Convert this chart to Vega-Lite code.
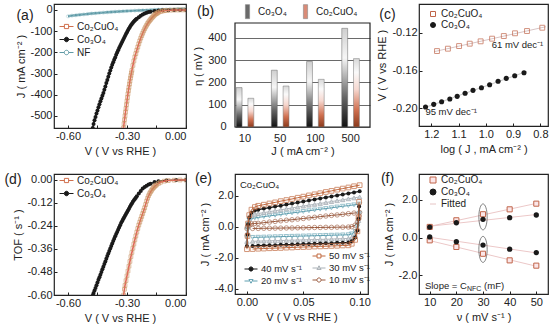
{
"$schema": "https://vega.github.io/schema/vega-lite/v6.json",
"background": "white",
"padding": {"left": 3, "top": 3, "right": 0, "bottom": 0},
"config": {
  "font": "Liberation Sans",
  "view": {"stroke": "#222", "strokeWidth": 1.2},
  "axis": {"grid": false, "domain": false, "tickSize": -3, "tickColor": "#222", "tickWidth": 1, "labelPadding": 5, "labelFontSize": 11, "labelColor": "#222", "titleFontSize": 11, "titleFontWeight": "normal", "titleColor": "#222", "titlePadding": 4},
  "legend": {"labelFontSize": 10, "labelColor": "#222", "padding": 0, "symbolOpacity": 1, "rowPadding": 0, "labelOffset": 3},
  "title": {"fontSize": 14, "fontWeight": "normal", "color": "#222", "anchor": "start", "frame": "group", "offset": 0},
  "text": {"font": "Liberation Sans", "color": "#222"},
  "locale": {"number": {"decimal": ".", "thousands": ",", "grouping": [3], "currency": ["$", ""], "minus": "-"}}
},
"datasets": {
"a": [
{"s":"NF","v":-0.6,"j":-30},{"s":"NF","v":-0.58,"j":-27},{"s":"NF","v":-0.56,"j":-25},{"s":"NF","v":-0.54,"j":-23},{"s":"NF","v":-0.52,"j":-21},{"s":"NF","v":-0.5,"j":-19},{"s":"NF","v":-0.48,"j":-17},{"s":"NF","v":-0.46,"j":-15.5},{"s":"NF","v":-0.44,"j":-14},{"s":"NF","v":-0.42,"j":-12.5},{"s":"NF","v":-0.4,"j":-11},{"s":"NF","v":-0.38,"j":-9.7},{"s":"NF","v":-0.36,"j":-8.5},{"s":"NF","v":-0.34,"j":-7.3},{"s":"NF","v":-0.32,"j":-6.2},{"s":"NF","v":-0.3,"j":-5.2},{"s":"NF","v":-0.28,"j":-4.2},{"s":"NF","v":-0.26,"j":-3.3},{"s":"NF","v":-0.24,"j":-2.4},{"s":"NF","v":-0.22,"j":-1.6},{"s":"NF","v":-0.2,"j":-0.8},{"s":"NF","v":-0.18,"j":0},{"s":"NF","v":-0.16,"j":0.7},{"s":"NF","v":-0.14,"j":1.4},{"s":"NF","v":-0.12,"j":2},{"s":"NF","v":-0.1,"j":2.6},{"s":"NF","v":-0.08,"j":3.2},{"s":"NF","v":-0.06,"j":3.8},{"s":"NF","v":-0.04,"j":4.3},{"s":"NF","v":-0.02,"j":4.8},{"s":"NF","v":0,"j":5.3},
{"s":"Co₃O₄","v":0,"j":0},{"s":"Co₃O₄","v":-0.03,"j":-0.2},{"s":"Co₃O₄","v":-0.06,"j":-0.5},{"s":"Co₃O₄","v":-0.09,"j":-1},{"s":"Co₃O₄","v":-0.12,"j":-2},{"s":"Co₃O₄","v":-0.14,"j":-3},{"s":"Co₃O₄","v":-0.16,"j":-5},{"s":"Co₃O₄","v":-0.18,"j":-8},{"s":"Co₃O₄","v":-0.19,"j":-10},{"s":"Co₃O₄","v":-0.2,"j":-13},{"s":"Co₃O₄","v":-0.21,"j":-17},{"s":"Co₃O₄","v":-0.22,"j":-22},{"s":"Co₃O₄","v":-0.23,"j":-27},{"s":"Co₃O₄","v":-0.24,"j":-34},{"s":"Co₃O₄","v":-0.25,"j":-41},{"s":"Co₃O₄","v":-0.255,"j":-45},{"s":"Co₃O₄","v":-0.26,"j":-50},{"s":"Co₃O₄","v":-0.265,"j":-55},{"s":"Co₃O₄","v":-0.27,"j":-60},{"s":"Co₃O₄","v":-0.275,"j":-66},{"s":"Co₃O₄","v":-0.28,"j":-72},{"s":"Co₃O₄","v":-0.285,"j":-80},{"s":"Co₃O₄","v":-0.29,"j":-88},{"s":"Co₃O₄","v":-0.295,"j":-96},{"s":"Co₃O₄","v":-0.3,"j":-105},{"s":"Co₃O₄","v":-0.305,"j":-114},{"s":"Co₃O₄","v":-0.31,"j":-123},{"s":"Co₃O₄","v":-0.315,"j":-132},{"s":"Co₃O₄","v":-0.32,"j":-142},{"s":"Co₃O₄","v":-0.325,"j":-151},{"s":"Co₃O₄","v":-0.33,"j":-161},{"s":"Co₃O₄","v":-0.335,"j":-170},{"s":"Co₃O₄","v":-0.34,"j":-180},{"s":"Co₃O₄","v":-0.345,"j":-190},{"s":"Co₃O₄","v":-0.35,"j":-201},{"s":"Co₃O₄","v":-0.355,"j":-212},{"s":"Co₃O₄","v":-0.36,"j":-224},{"s":"Co₃O₄","v":-0.365,"j":-235},{"s":"Co₃O₄","v":-0.37,"j":-247},{"s":"Co₃O₄","v":-0.375,"j":-259},{"s":"Co₃O₄","v":-0.38,"j":-272},{"s":"Co₃O₄","v":-0.385,"j":-286},{"s":"Co₃O₄","v":-0.39,"j":-300},{"s":"Co₃O₄","v":-0.395,"j":-315},{"s":"Co₃O₄","v":-0.4,"j":-330},{"s":"Co₃O₄","v":-0.405,"j":-345},{"s":"Co₃O₄","v":-0.41,"j":-361},{"s":"Co₃O₄","v":-0.415,"j":-376},{"s":"Co₃O₄","v":-0.42,"j":-392},{"s":"Co₃O₄","v":-0.425,"j":-405},{"s":"Co₃O₄","v":-0.43,"j":-418},{"s":"Co₃O₄","v":-0.435,"j":-431},{"s":"Co₃O₄","v":-0.44,"j":-445},{"s":"Co₃O₄","v":-0.445,"j":-459},{"s":"Co₃O₄","v":-0.45,"j":-474},{"s":"Co₃O₄","v":-0.455,"j":-489},{"s":"Co₃O₄","v":-0.46,"j":-505},{"s":"Co₃O₄","v":-0.465,"j":-521},{"s":"Co₃O₄","v":-0.47,"j":-538},{"s":"Co₃O₄","v":-0.474,"j":-557},
{"s":"Co₂CuO₄","v":0,"j":0},{"s":"Co₂CuO₄","v":-0.02,"j":0},{"s":"Co₂CuO₄","v":-0.04,"j":-0.3},{"s":"Co₂CuO₄","v":-0.06,"j":-0.6},{"s":"Co₂CuO₄","v":-0.08,"j":-1.2},{"s":"Co₂CuO₄","v":-0.1,"j":-2.5},{"s":"Co₂CuO₄","v":-0.11,"j":-3.5},{"s":"Co₂CuO₄","v":-0.12,"j":-5},{"s":"Co₂CuO₄","v":-0.13,"j":-7.5},{"s":"Co₂CuO₄","v":-0.14,"j":-11},{"s":"Co₂CuO₄","v":-0.145,"j":-14},{"s":"Co₂CuO₄","v":-0.15,"j":-17},{"s":"Co₂CuO₄","v":-0.155,"j":-20},{"s":"Co₂CuO₄","v":-0.16,"j":-24},{"s":"Co₂CuO₄","v":-0.165,"j":-29},{"s":"Co₂CuO₄","v":-0.17,"j":-34},{"s":"Co₂CuO₄","v":-0.175,"j":-39},{"s":"Co₂CuO₄","v":-0.18,"j":-45},{"s":"Co₂CuO₄","v":-0.185,"j":-51},{"s":"Co₂CuO₄","v":-0.19,"j":-57},{"s":"Co₂CuO₄","v":-0.195,"j":-64},{"s":"Co₂CuO₄","v":-0.2,"j":-72},{"s":"Co₂CuO₄","v":-0.205,"j":-80},{"s":"Co₂CuO₄","v":-0.21,"j":-89},{"s":"Co₂CuO₄","v":-0.215,"j":-99},{"s":"Co₂CuO₄","v":-0.22,"j":-110},{"s":"Co₂CuO₄","v":-0.225,"j":-121},{"s":"Co₂CuO₄","v":-0.23,"j":-133},{"s":"Co₂CuO₄","v":-0.235,"j":-146},{"s":"Co₂CuO₄","v":-0.24,"j":-160},{"s":"Co₂CuO₄","v":-0.245,"j":-175},{"s":"Co₂CuO₄","v":-0.25,"j":-190},{"s":"Co₂CuO₄","v":-0.255,"j":-206},{"s":"Co₂CuO₄","v":-0.26,"j":-222},{"s":"Co₂CuO₄","v":-0.265,"j":-241},{"s":"Co₂CuO₄","v":-0.27,"j":-262},{"s":"Co₂CuO₄","v":-0.275,"j":-285},{"s":"Co₂CuO₄","v":-0.2775,"j":-297},{"s":"Co₂CuO₄","v":-0.28,"j":-309},{"s":"Co₂CuO₄","v":-0.2825,"j":-322},{"s":"Co₂CuO₄","v":-0.285,"j":-336},{"s":"Co₂CuO₄","v":-0.2875,"j":-350},{"s":"Co₂CuO₄","v":-0.29,"j":-365},{"s":"Co₂CuO₄","v":-0.2925,"j":-380},{"s":"Co₂CuO₄","v":-0.295,"j":-396},{"s":"Co₂CuO₄","v":-0.2975,"j":-413},{"s":"Co₂CuO₄","v":-0.3,"j":-430},{"s":"Co₂CuO₄","v":-0.3025,"j":-447},{"s":"Co₂CuO₄","v":-0.305,"j":-465},{"s":"Co₂CuO₄","v":-0.3075,"j":-482},{"s":"Co₂CuO₄","v":-0.31,"j":-500},{"s":"Co₂CuO₄","v":-0.3125,"j":-518},{"s":"Co₂CuO₄","v":-0.315,"j":-537},{"s":"Co₂CuO₄","v":-0.318,"j":-557}
],
"b": [
{"J":"10","s":"Co₃O₄","eta":177},{"J":"10","s":"Co₂CuO₄","eta":129},{"J":"50","s":"Co₃O₄","eta":255},{"J":"50","s":"Co₂CuO₄","eta":184},{"J":"100","s":"Co₃O₄","eta":294},{"J":"100","s":"Co₂CuO₄","eta":214},{"J":"500","s":"Co₃O₄","eta":443},{"J":"500","s":"Co₂CuO₄","eta":307}
],
"c": [
{"s":"Co₂CuO₄","lj":1.179,"V":-0.1394},{"s":"Co₂CuO₄","lj":1.139,"V":-0.1369},{"s":"Co₂CuO₄","lj":1.098,"V":-0.1341},{"s":"Co₂CuO₄","lj":1.059,"V":-0.1316},{"s":"Co₂CuO₄","lj":1.019,"V":-0.1291},{"s":"Co₂CuO₄","lj":0.977,"V":-0.1263},{"s":"Co₂CuO₄","lj":0.934,"V":-0.1235},{"s":"Co₂CuO₄","lj":0.893,"V":-0.1206},{"s":"Co₂CuO₄","lj":0.849,"V":-0.1182},{"s":"Co₂CuO₄","lj":0.793,"V":-0.1147},
{"s":"Co₃O₄","lj":1.221,"V":-0.1986},{"s":"Co₃O₄","lj":1.191,"V":-0.1958},{"s":"Co₃O₄","lj":1.162,"V":-0.193},{"s":"Co₃O₄","lj":1.132,"V":-0.1902},{"s":"Co₃O₄","lj":1.105,"V":-0.1873},{"s":"Co₃O₄","lj":1.076,"V":-0.1841},{"s":"Co₃O₄","lj":1.047,"V":-0.181},{"s":"Co₃O₄","lj":1.016,"V":-0.1782},{"s":"Co₃O₄","lj":0.986,"V":-0.175},{"s":"Co₃O₄","lj":0.955,"V":-0.1714},{"s":"Co₃O₄","lj":0.925,"V":-0.1683},{"s":"Co₃O₄","lj":0.894,"V":-0.1655},{"s":"Co₃O₄","lj":0.86,"V":-0.1623}
],
"d": [
{"s":"Co₃O₄","v":0,"t":0},{"s":"Co₃O₄","v":-0.05,"t":-0.0005},{"s":"Co₃O₄","v":-0.1,"t":-0.002},{"s":"Co₃O₄","v":-0.14,"t":-0.006},{"s":"Co₃O₄","v":-0.16,"t":-0.011},{"s":"Co₃O₄","v":-0.18,"t":-0.019},{"s":"Co₃O₄","v":-0.19,"t":-0.024},{"s":"Co₃O₄","v":-0.2,"t":-0.03},{"s":"Co₃O₄","v":-0.21,"t":-0.037},{"s":"Co₃O₄","v":-0.22,"t":-0.045},{"s":"Co₃O₄","v":-0.23,"t":-0.057},{"s":"Co₃O₄","v":-0.24,"t":-0.071},{"s":"Co₃O₄","v":-0.25,"t":-0.085},{"s":"Co₃O₄","v":-0.255,"t":-0.092},{"s":"Co₃O₄","v":-0.26,"t":-0.099},{"s":"Co₃O₄","v":-0.265,"t":-0.106},{"s":"Co₃O₄","v":-0.27,"t":-0.114},{"s":"Co₃O₄","v":-0.275,"t":-0.122},{"s":"Co₃O₄","v":-0.28,"t":-0.131},{"s":"Co₃O₄","v":-0.285,"t":-0.14},{"s":"Co₃O₄","v":-0.29,"t":-0.15},{"s":"Co₃O₄","v":-0.295,"t":-0.159},{"s":"Co₃O₄","v":-0.3,"t":-0.168},{"s":"Co₃O₄","v":-0.305,"t":-0.178},{"s":"Co₃O₄","v":-0.31,"t":-0.187},{"s":"Co₃O₄","v":-0.315,"t":-0.196},{"s":"Co₃O₄","v":-0.32,"t":-0.205},{"s":"Co₃O₄","v":-0.325,"t":-0.215},{"s":"Co₃O₄","v":-0.33,"t":-0.225},{"s":"Co₃O₄","v":-0.335,"t":-0.236},{"s":"Co₃O₄","v":-0.34,"t":-0.248},{"s":"Co₃O₄","v":-0.345,"t":-0.259},{"s":"Co₃O₄","v":-0.35,"t":-0.271},{"s":"Co₃O₄","v":-0.355,"t":-0.282},{"s":"Co₃O₄","v":-0.36,"t":-0.294},{"s":"Co₃O₄","v":-0.365,"t":-0.306},{"s":"Co₃O₄","v":-0.37,"t":-0.318},{"s":"Co₃O₄","v":-0.375,"t":-0.331},{"s":"Co₃O₄","v":-0.38,"t":-0.344},{"s":"Co₃O₄","v":-0.385,"t":-0.357},{"s":"Co₃O₄","v":-0.39,"t":-0.37},{"s":"Co₃O₄","v":-0.395,"t":-0.383},{"s":"Co₃O₄","v":-0.4,"t":-0.397},{"s":"Co₃O₄","v":-0.405,"t":-0.411},{"s":"Co₃O₄","v":-0.41,"t":-0.425},{"s":"Co₃O₄","v":-0.415,"t":-0.438},{"s":"Co₃O₄","v":-0.42,"t":-0.452},{"s":"Co₃O₄","v":-0.425,"t":-0.466},{"s":"Co₃O₄","v":-0.43,"t":-0.48},{"s":"Co₃O₄","v":-0.435,"t":-0.494},{"s":"Co₃O₄","v":-0.44,"t":-0.508},{"s":"Co₃O₄","v":-0.445,"t":-0.521},{"s":"Co₃O₄","v":-0.45,"t":-0.535},{"s":"Co₃O₄","v":-0.455,"t":-0.549},{"s":"Co₃O₄","v":-0.46,"t":-0.563},{"s":"Co₃O₄","v":-0.465,"t":-0.577},{"s":"Co₃O₄","v":-0.47,"t":-0.59},{"s":"Co₃O₄","v":-0.473,"t":-0.6},
{"s":"Co₂CuO₄","v":0,"t":0},{"s":"Co₂CuO₄","v":-0.03,"t":0},{"s":"Co₂CuO₄","v":-0.06,"t":-0.001},{"s":"Co₂CuO₄","v":-0.09,"t":-0.003},{"s":"Co₂CuO₄","v":-0.11,"t":-0.006},{"s":"Co₂CuO₄","v":-0.13,"t":-0.012},{"s":"Co₂CuO₄","v":-0.14,"t":-0.018},{"s":"Co₂CuO₄","v":-0.15,"t":-0.025},{"s":"Co₂CuO₄","v":-0.155,"t":-0.029},{"s":"Co₂CuO₄","v":-0.16,"t":-0.034},{"s":"Co₂CuO₄","v":-0.165,"t":-0.04},{"s":"Co₂CuO₄","v":-0.17,"t":-0.046},{"s":"Co₂CuO₄","v":-0.175,"t":-0.054},{"s":"Co₂CuO₄","v":-0.18,"t":-0.062},{"s":"Co₂CuO₄","v":-0.185,"t":-0.071},{"s":"Co₂CuO₄","v":-0.19,"t":-0.082},{"s":"Co₂CuO₄","v":-0.195,"t":-0.095},{"s":"Co₂CuO₄","v":-0.2,"t":-0.11},{"s":"Co₂CuO₄","v":-0.205,"t":-0.128},{"s":"Co₂CuO₄","v":-0.21,"t":-0.145},{"s":"Co₂CuO₄","v":-0.215,"t":-0.16},{"s":"Co₂CuO₄","v":-0.22,"t":-0.175},{"s":"Co₂CuO₄","v":-0.225,"t":-0.19},{"s":"Co₂CuO₄","v":-0.23,"t":-0.205},{"s":"Co₂CuO₄","v":-0.235,"t":-0.22},{"s":"Co₂CuO₄","v":-0.24,"t":-0.235},{"s":"Co₂CuO₄","v":-0.245,"t":-0.253},{"s":"Co₂CuO₄","v":-0.25,"t":-0.272},{"s":"Co₂CuO₄","v":-0.255,"t":-0.292},{"s":"Co₂CuO₄","v":-0.26,"t":-0.312},{"s":"Co₂CuO₄","v":-0.265,"t":-0.334},{"s":"Co₂CuO₄","v":-0.27,"t":-0.356},{"s":"Co₂CuO₄","v":-0.275,"t":-0.378},{"s":"Co₂CuO₄","v":-0.28,"t":-0.4},{"s":"Co₂CuO₄","v":-0.285,"t":-0.425},{"s":"Co₂CuO₄","v":-0.29,"t":-0.45},{"s":"Co₂CuO₄","v":-0.295,"t":-0.475},{"s":"Co₂CuO₄","v":-0.3,"t":-0.5},{"s":"Co₂CuO₄","v":-0.305,"t":-0.525},{"s":"Co₂CuO₄","v":-0.31,"t":-0.55},{"s":"Co₂CuO₄","v":-0.313,"t":-0.57},{"s":"Co₂CuO₄","v":-0.317,"t":-0.6}
],
"e": [
{"r":"50","b":"u","v":0,"j":-1.45},{"r":"50","b":"u","v":0.0005,"j":-0.6},{"r":"50","b":"u","v":0.001,"j":0.2},{"r":"50","b":"u","v":0.002,"j":0.75},{"r":"50","b":"u","v":0.004,"j":1.1},{"r":"50","b":"u","v":0.007,"j":1.27},{"r":"50","b":"u","v":0.01,"j":1.35},{"r":"50","b":"u","v":0.015,"j":1.42},{"r":"50","b":"u","v":0.02,"j":1.5},{"r":"50","b":"u","v":0.025,"j":1.57},{"r":"50","b":"u","v":0.03,"j":1.65},{"r":"50","b":"u","v":0.035,"j":1.72},{"r":"50","b":"u","v":0.04,"j":1.79},{"r":"50","b":"u","v":0.045,"j":1.87},{"r":"50","b":"u","v":0.05,"j":1.94},{"r":"50","b":"u","v":0.055,"j":2.02},{"r":"50","b":"u","v":0.06,"j":2.09},{"r":"50","b":"u","v":0.065,"j":2.16},{"r":"50","b":"u","v":0.07,"j":2.24},{"r":"50","b":"u","v":0.075,"j":2.31},{"r":"50","b":"u","v":0.08,"j":2.39},{"r":"50","b":"u","v":0.085,"j":2.46},{"r":"50","b":"u","v":0.09,"j":2.53},{"r":"50","b":"u","v":0.095,"j":2.61},{"r":"50","b":"u","v":0.1,"j":2.68},
{"r":"50","b":"l","v":0.005,"j":-1.44},{"r":"50","b":"l","v":0.01,"j":-1.42},{"r":"50","b":"l","v":0.015,"j":-1.41},{"r":"50","b":"l","v":0.02,"j":-1.39},{"r":"50","b":"l","v":0.025,"j":-1.38},{"r":"50","b":"l","v":0.03,"j":-1.37},{"r":"50","b":"l","v":0.035,"j":-1.35},{"r":"50","b":"l","v":0.04,"j":-1.34},{"r":"50","b":"l","v":0.045,"j":-1.32},{"r":"50","b":"l","v":0.05,"j":-1.31},{"r":"50","b":"l","v":0.055,"j":-1.3},{"r":"50","b":"l","v":0.06,"j":-1.28},{"r":"50","b":"l","v":0.065,"j":-1.27},{"r":"50","b":"l","v":0.07,"j":-1.26},{"r":"50","b":"l","v":0.075,"j":-1.24},{"r":"50","b":"l","v":0.08,"j":-1.23},{"r":"50","b":"l","v":0.085,"j":-1.21},{"r":"50","b":"l","v":0.09,"j":-1.2},{"r":"50","b":"l","v":0.093,"j":-1.1},{"r":"50","b":"l","v":0.096,"j":-0.85},{"r":"50","b":"l","v":0.098,"j":-0.3},{"r":"50","b":"l","v":0.099,"j":0.6},{"r":"50","b":"l","v":0.0995,"j":1.6},
{"r":"40","b":"u","v":0,"j":-1.25},{"r":"40","b":"u","v":0.0005,"j":-0.5},{"r":"40","b":"u","v":0.001,"j":0.15},{"r":"40","b":"u","v":0.002,"j":0.6},{"r":"40","b":"u","v":0.004,"j":0.9},{"r":"40","b":"u","v":0.007,"j":1.04},{"r":"40","b":"u","v":0.01,"j":1.1},{"r":"40","b":"u","v":0.015,"j":1.17},{"r":"40","b":"u","v":0.02,"j":1.23},{"r":"40","b":"u","v":0.025,"j":1.3},{"r":"40","b":"u","v":0.03,"j":1.36},{"r":"40","b":"u","v":0.035,"j":1.43},{"r":"40","b":"u","v":0.04,"j":1.49},{"r":"40","b":"u","v":0.045,"j":1.56},{"r":"40","b":"u","v":0.05,"j":1.62},{"r":"40","b":"u","v":0.055,"j":1.69},{"r":"40","b":"u","v":0.06,"j":1.76},{"r":"40","b":"u","v":0.065,"j":1.82},{"r":"40","b":"u","v":0.07,"j":1.89},{"r":"40","b":"u","v":0.075,"j":1.95},{"r":"40","b":"u","v":0.08,"j":2.02},{"r":"40","b":"u","v":0.085,"j":2.08},{"r":"40","b":"u","v":0.09,"j":2.15},{"r":"40","b":"u","v":0.095,"j":2.21},{"r":"40","b":"u","v":0.1,"j":2.28},
{"r":"40","b":"l","v":0.005,"j":-1.24},{"r":"40","b":"l","v":0.01,"j":-1.22},{"r":"40","b":"l","v":0.015,"j":-1.21},{"r":"40","b":"l","v":0.02,"j":-1.2},{"r":"40","b":"l","v":0.025,"j":-1.19},{"r":"40","b":"l","v":0.03,"j":-1.17},{"r":"40","b":"l","v":0.035,"j":-1.16},{"r":"40","b":"l","v":0.04,"j":-1.15},{"r":"40","b":"l","v":0.045,"j":-1.13},{"r":"40","b":"l","v":0.05,"j":-1.12},{"r":"40","b":"l","v":0.055,"j":-1.11},{"r":"40","b":"l","v":0.06,"j":-1.1},{"r":"40","b":"l","v":0.065,"j":-1.08},{"r":"40","b":"l","v":0.07,"j":-1.07},{"r":"40","b":"l","v":0.075,"j":-1.06},{"r":"40","b":"l","v":0.08,"j":-1.04},{"r":"40","b":"l","v":0.085,"j":-1.03},{"r":"40","b":"l","v":0.09,"j":-1.02},{"r":"40","b":"l","v":0.093,"j":-0.93},{"r":"40","b":"l","v":0.096,"j":-0.7},{"r":"40","b":"l","v":0.098,"j":-0.25},{"r":"40","b":"l","v":0.099,"j":0.5},{"r":"40","b":"l","v":0.0995,"j":1.3},
{"r":"30","b":"u","v":0,"j":-0.95},{"r":"30","b":"u","v":0.0005,"j":-0.35},{"r":"30","b":"u","v":0.001,"j":0.15},{"r":"30","b":"u","v":0.002,"j":0.5},{"r":"30","b":"u","v":0.004,"j":0.7},{"r":"30","b":"u","v":0.007,"j":0.8},{"r":"30","b":"u","v":0.01,"j":0.85},{"r":"30","b":"u","v":0.015,"j":0.91},{"r":"30","b":"u","v":0.02,"j":0.97},{"r":"30","b":"u","v":0.025,"j":1.03},{"r":"30","b":"u","v":0.03,"j":1.09},{"r":"30","b":"u","v":0.035,"j":1.15},{"r":"30","b":"u","v":0.04,"j":1.21},{"r":"30","b":"u","v":0.045,"j":1.27},{"r":"30","b":"u","v":0.05,"j":1.33},{"r":"30","b":"u","v":0.055,"j":1.39},{"r":"30","b":"u","v":0.06,"j":1.44},{"r":"30","b":"u","v":0.065,"j":1.5},{"r":"30","b":"u","v":0.07,"j":1.56},{"r":"30","b":"u","v":0.075,"j":1.62},{"r":"30","b":"u","v":0.08,"j":1.68},{"r":"30","b":"u","v":0.085,"j":1.74},{"r":"30","b":"u","v":0.09,"j":1.8},{"r":"30","b":"u","v":0.095,"j":1.86},{"r":"30","b":"u","v":0.1,"j":1.92},
{"r":"30","b":"l","v":0.005,"j":-0.94},{"r":"30","b":"l","v":0.01,"j":-0.93},{"r":"30","b":"l","v":0.015,"j":-0.92},{"r":"30","b":"l","v":0.02,"j":-0.91},{"r":"30","b":"l","v":0.025,"j":-0.9},{"r":"30","b":"l","v":0.03,"j":-0.89},{"r":"30","b":"l","v":0.035,"j":-0.88},{"r":"30","b":"l","v":0.04,"j":-0.87},{"r":"30","b":"l","v":0.045,"j":-0.86},{"r":"30","b":"l","v":0.05,"j":-0.85},{"r":"30","b":"l","v":0.055,"j":-0.84},{"r":"30","b":"l","v":0.06,"j":-0.83},{"r":"30","b":"l","v":0.065,"j":-0.82},{"r":"30","b":"l","v":0.07,"j":-0.81},{"r":"30","b":"l","v":0.075,"j":-0.8},{"r":"30","b":"l","v":0.08,"j":-0.78},{"r":"30","b":"l","v":0.085,"j":-0.77},{"r":"30","b":"l","v":0.09,"j":-0.76},{"r":"30","b":"l","v":0.093,"j":-0.69},{"r":"30","b":"l","v":0.096,"j":-0.5},{"r":"30","b":"l","v":0.098,"j":-0.15},{"r":"30","b":"l","v":0.099,"j":0.4},{"r":"30","b":"l","v":0.0995,"j":1},
{"r":"20","b":"u","v":0,"j":-0.7},{"r":"20","b":"u","v":0.0005,"j":-0.2},{"r":"20","b":"u","v":0.001,"j":0.15},{"r":"20","b":"u","v":0.002,"j":0.4},{"r":"20","b":"u","v":0.004,"j":0.52},{"r":"20","b":"u","v":0.007,"j":0.57},{"r":"20","b":"u","v":0.01,"j":0.6},{"r":"20","b":"u","v":0.015,"j":0.65},{"r":"20","b":"u","v":0.02,"j":0.7},{"r":"20","b":"u","v":0.025,"j":0.74},{"r":"20","b":"u","v":0.03,"j":0.79},{"r":"20","b":"u","v":0.035,"j":0.84},{"r":"20","b":"u","v":0.04,"j":0.89},{"r":"20","b":"u","v":0.045,"j":0.93},{"r":"20","b":"u","v":0.05,"j":0.98},{"r":"20","b":"u","v":0.055,"j":1.03},{"r":"20","b":"u","v":0.06,"j":1.08},{"r":"20","b":"u","v":0.065,"j":1.13},{"r":"20","b":"u","v":0.07,"j":1.17},{"r":"20","b":"u","v":0.075,"j":1.22},{"r":"20","b":"u","v":0.08,"j":1.27},{"r":"20","b":"u","v":0.085,"j":1.32},{"r":"20","b":"u","v":0.09,"j":1.36},{"r":"20","b":"u","v":0.095,"j":1.41},{"r":"20","b":"u","v":0.1,"j":1.46},
{"r":"20","b":"l","v":0.005,"j":-0.69},{"r":"20","b":"l","v":0.01,"j":-0.68},{"r":"20","b":"l","v":0.015,"j":-0.67},{"r":"20","b":"l","v":0.02,"j":-0.66},{"r":"20","b":"l","v":0.025,"j":-0.65},{"r":"20","b":"l","v":0.03,"j":-0.64},{"r":"20","b":"l","v":0.035,"j":-0.63},{"r":"20","b":"l","v":0.04,"j":-0.62},{"r":"20","b":"l","v":0.045,"j":-0.61},{"r":"20","b":"l","v":0.05,"j":-0.6},{"r":"20","b":"l","v":0.055,"j":-0.59},{"r":"20","b":"l","v":0.06,"j":-0.58},{"r":"20","b":"l","v":0.065,"j":-0.57},{"r":"20","b":"l","v":0.07,"j":-0.56},{"r":"20","b":"l","v":0.075,"j":-0.55},{"r":"20","b":"l","v":0.08,"j":-0.54},{"r":"20","b":"l","v":0.085,"j":-0.53},{"r":"20","b":"l","v":0.09,"j":-0.52},{"r":"20","b":"l","v":0.093,"j":-0.46},{"r":"20","b":"l","v":0.096,"j":-0.3},{"r":"20","b":"l","v":0.098,"j":0},{"r":"20","b":"l","v":0.099,"j":0.4},{"r":"20","b":"l","v":0.0995,"j":0.85},
{"r":"10","b":"u","v":0,"j":-0.12},{"r":"10","b":"u","v":0.0005,"j":0},{"r":"10","b":"u","v":0.001,"j":0.08},{"r":"10","b":"u","v":0.002,"j":0.15},{"r":"10","b":"u","v":0.004,"j":0.19},{"r":"10","b":"u","v":0.007,"j":0.21},{"r":"10","b":"u","v":0.01,"j":0.22},{"r":"10","b":"u","v":0.015,"j":0.26},{"r":"10","b":"u","v":0.02,"j":0.3},{"r":"10","b":"u","v":0.025,"j":0.34},{"r":"10","b":"u","v":0.03,"j":0.38},{"r":"10","b":"u","v":0.035,"j":0.42},{"r":"10","b":"u","v":0.04,"j":0.45},{"r":"10","b":"u","v":0.045,"j":0.49},{"r":"10","b":"u","v":0.05,"j":0.53},{"r":"10","b":"u","v":0.055,"j":0.57},{"r":"10","b":"u","v":0.06,"j":0.61},{"r":"10","b":"u","v":0.065,"j":0.65},{"r":"10","b":"u","v":0.07,"j":0.69},{"r":"10","b":"u","v":0.075,"j":0.73},{"r":"10","b":"u","v":0.08,"j":0.76},{"r":"10","b":"u","v":0.085,"j":0.8},{"r":"10","b":"u","v":0.09,"j":0.84},{"r":"10","b":"u","v":0.095,"j":0.88},{"r":"10","b":"u","v":0.1,"j":0.92},
{"r":"10","b":"l","v":0.005,"j":-0.11},{"r":"10","b":"l","v":0.01,"j":-0.11},{"r":"10","b":"l","v":0.015,"j":-0.1},{"r":"10","b":"l","v":0.02,"j":-0.1},{"r":"10","b":"l","v":0.025,"j":-0.09},{"r":"10","b":"l","v":0.03,"j":-0.09},{"r":"10","b":"l","v":0.035,"j":-0.08},{"r":"10","b":"l","v":0.04,"j":-0.08},{"r":"10","b":"l","v":0.045,"j":-0.07},{"r":"10","b":"l","v":0.05,"j":-0.07},{"r":"10","b":"l","v":0.055,"j":-0.06},{"r":"10","b":"l","v":0.06,"j":-0.05},{"r":"10","b":"l","v":0.065,"j":-0.05},{"r":"10","b":"l","v":0.07,"j":-0.04},{"r":"10","b":"l","v":0.075,"j":-0.04},{"r":"10","b":"l","v":0.08,"j":-0.03},{"r":"10","b":"l","v":0.085,"j":-0.03},{"r":"10","b":"l","v":0.09,"j":-0.02},{"r":"10","b":"l","v":0.093,"j":0},{"r":"10","b":"l","v":0.096,"j":0.1},{"r":"10","b":"l","v":0.098,"j":0.3},{"r":"10","b":"l","v":0.099,"j":0.5},{"r":"10","b":"l","v":0.0995,"j":0.7}
],
"f": [
{"s":"Co₂CuO₄","k":"a","v":10,"j":0.57},{"s":"Co₂CuO₄","k":"a","v":20,"j":0.92},{"s":"Co₂CuO₄","k":"a","v":30,"j":1.24},{"s":"Co₂CuO₄","k":"a","v":40,"j":1.5},{"s":"Co₂CuO₄","k":"a","v":50,"j":1.8},
{"s":"Co₂CuO₄","k":"c","v":10,"j":-0.14},{"s":"Co₂CuO₄","k":"c","v":20,"j":-0.49},{"s":"Co₂CuO₄","k":"c","v":30,"j":-0.85},{"s":"Co₂CuO₄","k":"c","v":40,"j":-1.2},{"s":"Co₂CuO₄","k":"c","v":50,"j":-1.48},
{"s":"Co₃O₄","k":"a","v":10,"j":0.56},{"s":"Co₃O₄","k":"a","v":20,"j":0.79},{"s":"Co₃O₄","k":"a","v":30,"j":0.97},{"s":"Co₃O₄","k":"a","v":40,"j":1.06},{"s":"Co₃O₄","k":"a","v":50,"j":1.2},
{"s":"Co₃O₄","k":"c","v":10,"j":0.04},{"s":"Co₃O₄","k":"c","v":20,"j":-0.21},{"s":"Co₃O₄","k":"c","v":30,"j":-0.39},{"s":"Co₃O₄","k":"c","v":40,"j":-0.61},{"s":"Co₃O₄","k":"c","v":50,"j":-0.79}
]
},
"columns": 3,
"spacing": {"row": 46, "column": 49},
"bounds": "flush",
"resolve": {"scale": {"fill": "independent", "stroke": "independent", "shape": "independent"}, "legend": {"fill": "independent", "stroke": "independent", "shape": "independent"}},
"concat": [
  {
   "width": 132, "height": 124,
   "data": {"name": "a"},
   "encoding": {
    "x": {"field": "v", "type": "quantitative", "scale": {"domain": [-0.671, 0], "nice": false, "zero": false}, "axis": {"values": [-0.6, -0.45, -0.3, -0.15, 0], "format": ".2f", "title": "V ( V vs RHE )"}},
    "y": {"field": "j", "type": "quantitative", "scale": {"domain": [-557, 28], "nice": false, "zero": false}, "axis": {"values": [-500, -400, -300, -200, -100, 0], "title": "J ( mA cm⁻² )", "titlePadding": 3}}
   },
   "layer": [
    {"transform": [{"filter": "datum.s == 'NF'"}], "mark": {"type": "line", "color": "#5f9aa6", "strokeWidth": 2.4, "clip": true}},
    {"transform": [{"filter": "datum.s == 'NF'"}], "mark": {"type": "point", "shape": "circle", "filled": false, "color": "#a6ccd2", "strokeWidth": 0.7, "size": 10, "clip": true}},
    {"transform": [{"filter": "datum.s == 'Co₃O₄'"}], "mark": {"type": "line", "color": "#111", "strokeWidth": 1.2, "clip": true}},
    {"transform": [{"filter": "datum.s == 'Co₃O₄'"}], "mark": {"type": "point", "shape": "circle", "filled": true, "color": "#1a1a1a", "opacity": 1, "size": 16, "clip": true}},
    {"transform": [{"filter": "datum.s == 'Co₂CuO₄'"}], "mark": {"type": "line", "color": "#e26456", "strokeWidth": 1.6, "clip": true}},
    {"transform": [{"filter": "datum.s == 'Co₂CuO₄'"}], "mark": {"type": "point", "shape": "square", "filled": false, "color": "#c8905e", "strokeWidth": 0.9, "size": 14, "clip": true}},
    {"data": {"values": [{"v": -0.8184, "j": -28.6, "t": "(a)"}]}, "mark": {"type": "text", "fontSize": 14, "align": "center", "baseline": "middle"}, "encoding": {"text": {"field": "t"}}},
    {"mark": {"type": "point", "opacity": 0},
     "encoding": {
      "shape": {"field": "s", "type": "nominal", "scale": {"domain": ["Co₂CuO₄", "Co₃O₄", "NF"], "range": ["M-1,0H-0.3M0.3,0H1M-0.3,-0.3H0.3V0.3H-0.3Z", "M-1,0H-0.32M0.32,0H1M0.32,0A0.32,0.32,0,1,1,-0.32,0A0.32,0.32,0,1,1,0.32,0Z", "M-1,0H-0.32M0.32,0H1M0.32,0A0.32,0.32,0,1,1,-0.32,0A0.32,0.32,0,1,1,0.32,0Z"]}, "legend": {"orient": "none", "legendX": 5, "legendY": 15, "title": null, "symbolSize": 196, "symbolStrokeWidth": 1, "symbolOpacity": 1}},
      "fill": {"field": "s", "type": "nominal", "scale": {"domain": ["Co₂CuO₄", "Co₃O₄", "NF"], "range": ["#ffffff", "#1a1a1a", "#ffffff"]}},
      "stroke": {"field": "s", "type": "nominal", "scale": {"domain": ["Co₂CuO₄", "Co₃O₄", "NF"], "range": ["#d0704e", "#1a1a1a", "#5f9aa6"]}}
     }}
   ]
  },
  {
   "width": 135, "height": 124,
   "view": {"stroke": null},
   "data": {"name": "b"},
   "title": {"text": "(b)", "dx": -38, "dy": 26, "align": "left", "baseline": "middle"},
   "encoding": {
    "x": {"field": "J", "type": "nominal", "sort": ["10", "50", "100", "500"], "scale": {"paddingInner": 0.5, "paddingOuter": 0.1675, "align": 0.1}, "axis": {"labelAngle": 0, "ticks": false, "labelPadding": 4, "titlePadding": 2, "title": "J ( mA cm⁻² )"}},
    "xOffset": {"field": "s", "type": "nominal", "sort": ["Co₃O₄", "Co₂CuO₄"], "scale": {"paddingInner": 0.5, "paddingOuter": 0}},
    "y": {"field": "eta", "type": "quantitative", "scale": {"domain": [-4.5, 552.3], "nice": false, "zero": false}, "axis": {"values": [0, 100, 200, 300, 400], "grid": true, "gridColor": "#444", "gridWidth": 0.8, "ticks": false, "labelPadding": 9, "title": "η ( mV )"}}
   },
   "layer": [
    {"data": {"values": [{"eta": 0, "eta2": 467}]}, "mark": {"type": "rect", "fill": null, "stroke": "#222", "strokeWidth": 1.2}, "encoding": {"x": {"value": 0}, "x2": {"value": "width"}, "xOffset": null, "y2": {"field": "eta2"}}},
    {"transform": [{"filter": "datum.s == 'Co₃O₄'"}], "mark": {"type": "bar", "stroke": "#666", "strokeWidth": 0.5, "fill": {"gradient": "linear", "x1": 0, "y1": 1, "x2": 0, "y2": 0, "stops": [{"offset": 0, "color": "#111111"}, {"offset": 0.3, "color": "#666666"}, {"offset": 0.7, "color": "#f6f6f6"}, {"offset": 1, "color": "#cfcfcf"}]}}},
    {"transform": [{"filter": "datum.s == 'Co₂CuO₄'"}], "mark": {"type": "bar", "stroke": "#777", "strokeWidth": 0.5, "fill": {"gradient": "linear", "x1": 0, "y1": 1, "x2": 0, "y2": 0, "stops": [{"offset": 0, "color": "#8a3a1c"}, {"offset": 0.25, "color": "#d07050"}, {"offset": 0.55, "color": "#f6d8d0"}, {"offset": 0.8, "color": "#fafafa"}, {"offset": 1, "color": "#d8d8d8"}]}}},
    {"mark": {"type": "point", "opacity": 0},
     "encoding": {"fill": {"field": "s", "type": "nominal", "scale": {"domain": ["Co₃O₄", "Co₂CuO₄"], "range": ["#6a6a6a", "#d98b77"]}, "legend": {"orient": "none", "legendX": 5, "legendY": 0, "direction": "horizontal", "title": null, "symbolType": "M-0.3,-1H0.3V1H-0.3Z", "symbolSize": 196, "symbolStrokeColor": "#888", "symbolStrokeWidth": 0.6, "symbolOpacity": 1, "columnPadding": 11}}}}
   ]
  },
  {
   "width": 129, "height": 122,
   "data": {"name": "c"},
   "encoding": {
    "x": {"field": "lj", "type": "quantitative", "scale": {"domain": [0.772, 1.245], "reverse": true, "nice": false, "zero": false}, "axis": {"values": [0.8, 0.9, 1.0, 1.1, 1.2], "format": ".1f", "title": "log ( J , mA cm⁻² )"}},
    "y": {"field": "V", "type": "quantitative", "scale": {"domain": [-0.2187, -0.0896], "nice": false, "zero": false}, "axis": {"values": [-0.2, -0.16, -0.12], "format": ".2f", "title": "V ( V vs RHE )"}}
   },
   "layer": [
    {"transform": [{"filter": "datum.s == 'Co₂CuO₄'"}, {"regression": "V", "on": "lj", "extent": [0.78, 1.19]}], "mark": {"type": "line", "color": "#d8c4c4", "strokeWidth": 1}},
    {"transform": [{"filter": "datum.s == 'Co₃O₄'"}, {"regression": "V", "on": "lj", "extent": [0.85, 1.23]}], "mark": {"type": "line", "color": "#c8c8c8", "strokeWidth": 1}},
    {"transform": [{"filter": "datum.s == 'Co₂CuO₄'"}], "mark": {"type": "point", "shape": "square", "filled": false, "color": "#c0654a", "strokeWidth": 1, "size": 24}},
    {"transform": [{"filter": "datum.s == 'Co₃O₄'"}], "mark": {"type": "point", "shape": "circle", "filled": true, "color": "#1a1a1a", "opacity": 1, "size": 26}},
    {"data": {"values": [{"lj": 0.884, "V": -0.1327, "t": "61 mV dec⁻¹"}, {"lj": 1.127, "V": -0.2043, "t": "95 mV dec⁻¹"}]}, "mark": {"type": "text", "fontSize": 9.5}, "encoding": {"text": {"field": "t"}}},
    {"data": {"values": [{"lj": 1.3605, "V": -0.1012, "t": "(c)"}]}, "mark": {"type": "text", "fontSize": 14, "align": "center", "baseline": "middle"}, "encoding": {"text": {"field": "t"}}},
    {"mark": {"type": "point", "opacity": 0},
     "encoding": {
      "shape": {"field": "s", "type": "nominal", "scale": {"domain": ["Co₂CuO₄", "Co₃O₄"], "range": ["square", "circle"]}, "legend": {"orient": "none", "legendX": 9, "legendY": 5, "title": null, "symbolSize": 25, "symbolStrokeWidth": 1, "symbolOpacity": 1, "rowPadding": 1}},
      "fill": {"field": "s", "type": "nominal", "scale": {"domain": ["Co₂CuO₄", "Co₃O₄"], "range": ["#ffffff", "#1a1a1a"]}},
      "stroke": {"field": "s", "type": "nominal", "scale": {"domain": ["Co₂CuO₄", "Co₃O₄"], "range": ["#c0654a", "#1a1a1a"]}}
     }}
   ]
  },
  {
   "width": 132, "height": 121,
   "data": {"name": "d"},
   "encoding": {
    "x": {"field": "v", "type": "quantitative", "scale": {"domain": [-0.671, 0], "nice": false, "zero": false}, "axis": {"values": [-0.6, -0.45, -0.3, -0.15, 0], "format": ".2f", "title": "V ( V vs RHE )"}},
    "y": {"field": "t", "type": "quantitative", "scale": {"domain": [-0.6, 0.0313], "nice": false, "zero": false}, "axis": {"values": [-0.6, -0.48, -0.36, -0.24, -0.12, 0], "format": ".2f", "title": "TOF ( s⁻¹ )", "titlePadding": 3}}
   },
   "layer": [
    {"transform": [{"filter": "datum.s == 'Co₃O₄'"}], "mark": {"type": "line", "color": "#111", "strokeWidth": 1.2, "clip": true}},
    {"transform": [{"filter": "datum.s == 'Co₃O₄'"}], "mark": {"type": "point", "shape": "circle", "filled": true, "color": "#1a1a1a", "opacity": 1, "size": 16, "clip": true}},
    {"transform": [{"filter": "datum.s == 'Co₂CuO₄'"}], "mark": {"type": "line", "color": "#e26456", "strokeWidth": 1.6, "clip": true}},
    {"transform": [{"filter": "datum.s == 'Co₂CuO₄'"}], "mark": {"type": "point", "shape": "square", "filled": false, "color": "#c8905e", "strokeWidth": 0.9, "size": 14, "clip": true}},
    {"data": {"values": [{"v": -0.8794, "t": 0.0026, "lab": "(d)"}]}, "mark": {"type": "text", "fontSize": 14, "align": "center", "baseline": "middle"}, "encoding": {"text": {"field": "lab"}}},
    {"mark": {"type": "point", "opacity": 0},
     "encoding": {
      "shape": {"field": "s", "type": "nominal", "scale": {"domain": ["Co₂CuO₄", "Co₃O₄"], "range": ["M-1,0H-0.3M0.3,0H1M-0.3,-0.3H0.3V0.3H-0.3Z", "M-1,0H-0.32M0.32,0H1M0.32,0A0.32,0.32,0,1,1,-0.32,0A0.32,0.32,0,1,1,0.32,0Z"]}, "legend": {"orient": "none", "legendX": 5, "legendY": -1, "title": null, "symbolSize": 196, "symbolStrokeWidth": 1, "symbolOpacity": 1}},
      "fill": {"field": "s", "type": "nominal", "scale": {"domain": ["Co₂CuO₄", "Co₃O₄"], "range": ["#ffffff", "#1a1a1a"]}},
      "stroke": {"field": "s", "type": "nominal", "scale": {"domain": ["Co₂CuO₄", "Co₃O₄"], "range": ["#d0704e", "#1a1a1a"]}}
     }}
   ]
  },
  {
   "width": 133, "height": 120,
   "data": {"name": "e"},
   "resolve": {"scale": {"shape": "independent", "fill": "independent", "stroke": "independent"}, "legend": {"shape": "independent", "fill": "independent", "stroke": "independent"}},
   "encoding": {
    "x": {"field": "v", "type": "quantitative", "scale": {"domain": [-0.0106, 0.1074], "nice": false, "zero": false}, "axis": {"values": [0, 0.05, 0.1], "format": ".2f", "title": "V ( V vs RHE )"}},
    "y": {"field": "j", "type": "quantitative", "scale": {"domain": [-4.34, 3.4], "nice": false, "zero": false}, "axis": {"values": [-4, -2, 0, 2], "format": ".1f", "title": "J ( mA cm⁻² )"}},
    "detail": {"field": "b"}
   },
   "layer": [
    {"transform": [{"filter": "datum.r == '10'"}], "mark": {"type": "line", "color": "#9a5a3e", "strokeWidth": 1}},
    {"transform": [{"filter": "datum.r == '10'"}], "mark": {"type": "point", "shape": "circle", "filled": false, "color": "#9a5a3e", "strokeWidth": 0.9, "size": 20}},
    {"transform": [{"filter": "datum.r == '20'"}], "mark": {"type": "line", "color": "#5f9fb0", "strokeWidth": 1}},
    {"transform": [{"filter": "datum.r == '20'"}], "mark": {"type": "point", "shape": "triangle-down", "filled": false, "color": "#5f9fb0", "strokeWidth": 0.9, "size": 20}},
    {"transform": [{"filter": "datum.r == '30'"}], "mark": {"type": "line", "color": "#b0b7bd", "strokeWidth": 1}},
    {"transform": [{"filter": "datum.r == '30'"}], "mark": {"type": "point", "shape": "triangle-up", "filled": true, "fill": "#cfd4d8", "stroke": "#a9b0b6", "strokeWidth": 0.8, "opacity": 1, "size": 20}},
    {"transform": [{"filter": "datum.r == '40'"}], "mark": {"type": "line", "color": "#111", "strokeWidth": 1.2}},
    {"transform": [{"filter": "datum.r == '40'"}], "mark": {"type": "point", "shape": "circle", "filled": true, "color": "#1a1a1a", "opacity": 1, "size": 16}},
    {"transform": [{"filter": "datum.r == '50'"}], "mark": {"type": "line", "color": "#c0693f", "strokeWidth": 1}},
    {"transform": [{"filter": "datum.r == '50'"}], "mark": {"type": "point", "shape": "square", "filled": false, "color": "#c0693f", "strokeWidth": 1, "size": 22}},
    {"data": {"values": [{"v": -0.0062, "j": 2.69, "t": "Co₂CuO₄"}]}, "mark": {"type": "text", "fontSize": 9.5, "align": "left"}, "encoding": {"text": {"field": "t"}, "detail": null}},
    {"data": {"values": [{"v": -0.0386, "j": 3.077, "t": "(e)"}]}, "mark": {"type": "text", "fontSize": 14, "align": "center", "baseline": "middle"}, "encoding": {"text": {"field": "t"}, "detail": null}},
    {"transform": [{"filter": "datum.r == '40' || datum.r == '20'"}], "mark": {"type": "point", "opacity": 0},
     "encoding": {
      "shape": {"field": "r", "type": "nominal", "scale": {"domain": ["40", "20"], "range": ["M-1,0H-0.32M0.32,0H1M0.32,0A0.32,0.32,0,1,1,-0.32,0A0.32,0.32,0,1,1,0.32,0Z", "M-1,0H-0.3M0.3,0H1M0,0.34L0.32,-0.22H-0.32Z"]}, "legend": {"orient": "none", "legendX": 9, "legendY": 88, "title": null, "symbolSize": 169, "symbolStrokeWidth": 1, "symbolOpacity": 1, "labelFontSize": 9.5, "labelExpr": "datum.value + ' mV s⁻¹'"}},
      "fill": {"field": "r", "type": "nominal", "scale": {"domain": ["40", "20"], "range": ["#1a1a1a", "#ffffff"]}},
      "stroke": {"field": "r", "type": "nominal", "scale": {"domain": ["40", "20"], "range": ["#1a1a1a", "#5f9fb0"]}}
     }},
    {"transform": [{"filter": "datum.r == '50' || datum.r == '30' || datum.r == '10'"}], "mark": {"type": "point", "opacity": 0},
     "encoding": {
      "shape": {"field": "r", "type": "nominal", "scale": {"domain": ["50", "30", "10"], "range": ["M-1,0H-0.3M0.3,0H1M-0.3,-0.3H0.3V0.3H-0.3Z", "M-1,0H-0.3M0.3,0H1M0,-0.34L0.32,0.22H-0.32Z", "M-1,0H-0.32M0.32,0H1M0.32,0A0.32,0.32,0,1,1,-0.32,0A0.32,0.32,0,1,1,0.32,0Z"]}, "legend": {"orient": "none", "legendX": 77, "legendY": 75, "title": null, "symbolSize": 169, "symbolStrokeWidth": 1, "symbolOpacity": 1, "labelFontSize": 9.5, "labelExpr": "datum.value + ' mV s⁻¹'"}},
      "fill": {"field": "r", "type": "nominal", "scale": {"domain": ["50", "30", "10"], "range": ["#ffffff", "#cfd4d8", "#ffffff"]}},
      "stroke": {"field": "r", "type": "nominal", "scale": {"domain": ["50", "30", "10"], "range": ["#c0693f", "#a9b0b6", "#9a5a3e"]}}
     }}
   ]
  },
  {
   "width": 129, "height": 120,
   "data": {"name": "f"},
   "encoding": {
    "x": {"field": "v", "type": "quantitative", "scale": {"domain": [5.98, 54.39], "nice": false, "zero": false}, "axis": {"values": [10, 20, 30, 40, 50], "title": "ν ( mV s⁻¹ )"}},
    "y": {"field": "j", "type": "quantitative", "scale": {"domain": [-2.98, 3.37], "nice": false, "zero": false}, "axis": {"values": [-2, 0, 2], "format": ".1f", "title": "J ( mA cm⁻² )"}}
   },
   "layer": [
    {"transform": [{"regression": "j", "on": "v", "groupby": ["s", "k"], "extent": [10, 50]}], "mark": {"type": "line", "color": "#ecc8c8", "strokeWidth": 1}, "encoding": {"detail": [{"field": "s"}, {"field": "k"}]}},
    {"data": {"values": [{"v": 30, "j": 1.1}, {"v": 30, "j": -0.62}]}, "mark": {"type": "point", "shape": "M0,-1A0.32,1,0,1,1,0,1A0.32,1,0,1,1,0,-1Z", "filled": false, "color": "#222", "strokeWidth": 0.8, "size": 676}},
    {"transform": [{"filter": "datum.s == 'Co₂CuO₄'"}], "mark": {"type": "point", "shape": "square", "filled": true, "fill": "#fbe6e8", "stroke": "#c0654a", "strokeWidth": 1, "opacity": 1, "size": 26}},
    {"transform": [{"filter": "datum.s == 'Co₃O₄'"}], "mark": {"type": "point", "shape": "circle", "filled": true, "color": "#1a1a1a", "opacity": 1, "size": 28}},
    {"data": {"values": [{"v": 8.2, "j": -2.56, "t": "Slope = C"}, {"v": 30.4, "j": -2.56, "t": "(mF)"}]}, "mark": {"type": "text", "fontSize": 9.5, "align": "left"}, "encoding": {"text": {"field": "t"}}},
    {"data": {"values": [{"v": 24.0, "j": -2.56, "t": "NFC"}]}, "mark": {"type": "text", "fontSize": 7, "align": "left", "dy": 3}, "encoding": {"text": {"field": "t"}}},
    {"data": {"values": [{"v": -5.84, "j": 3.105, "t": "(f)"}]}, "mark": {"type": "text", "fontSize": 14, "align": "center", "baseline": "middle"}, "encoding": {"text": {"field": "t"}}},
    {"mark": {"type": "point", "opacity": 0},
     "encoding": {
      "shape": {"field": "s", "type": "nominal", "scale": {"domain": ["Co₂CuO₄", "Co₃O₄", "Fitted"], "range": ["square", "circle", "M-1,0H1"]}, "legend": {"orient": "none", "legendX": 9, "legendY": 1, "title": null, "symbolSize": 36, "symbolStrokeWidth": 1, "symbolOpacity": 1, "rowPadding": 2}},
      "fill": {"field": "s", "type": "nominal", "scale": {"domain": ["Co₂CuO₄", "Co₃O₄", "Fitted"], "range": ["#fbe6e8", "#1a1a1a", "transparent"]}},
      "stroke": {"field": "s", "type": "nominal", "scale": {"domain": ["Co₂CuO₄", "Co₃O₄", "Fitted"], "range": ["#c0654a", "#1a1a1a", "#e6c4c4"]}}
     }}
   ]
  }
]
}
